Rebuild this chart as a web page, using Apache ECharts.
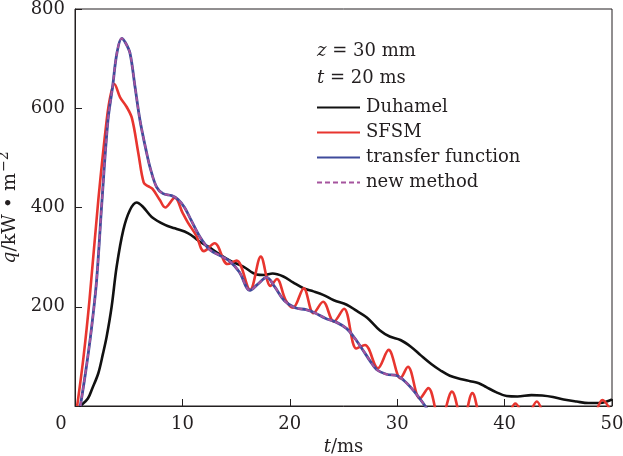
<!DOCTYPE html>
<html><head><meta charset="utf-8">
<script src="https://cdn.jsdelivr.net/npm/echarts@6/dist/echarts.min.js"></script>
<style>html,body{margin:0;padding:0;background:#fff}#c{width:623px;height:456px}</style>
</head><body><div id="c"></div>
<script>
// ---- data (t in ms, q in kW·m^-2) ----
const duhamelT = [0.4,0.6,1.2,1.6,2.17,2.6,2.95,3.41,3.88,4.5,5.12,5.74,6.3,7.14,8.38,9.3,10.55,11.5,12.4,13.5,14.6,15.67,16.9,17.6,18.4,19.4,20.3,21.3,22.2,23.1,24.1,25.3,26.2,27.2,28.4,29.3,30.3,31.3,32.2,33.2,34.0,34.9,36.0,36.8,37.6,38.3,39.2,40.2,41.2,42.5,43.5,44.5,45.5,46.7,47.8,48.9,49.5,50];
const duhamelQ = [0,2,15,35,66,105,140,200,281,355,395,410,402,381,365,358,348,333,321,305,291,281,265,264,267,261,249,237,231,224,213,204,192,178,152,140,133,119,102,84,72,61,54,50,46,38,28,20,19,22,21,18,13,9,6,6,9,13];

const sfsmT = [0.2,0.8,1.35,2.17,2.95,3.3,3.66,4.2,4.8,5.3,5.9,6.4,6.8,7.2,7.9,8.4,9.3,10.0,10.5,11.3,12.0,13.0,14.2,15.05,16.3,17.3,18.2,18.8,19.6,20.3,21.3,22.2,23.1,24.1,25.05,26.2,27.0,28.2,29.2,30.3,31.0,32.1,32.9,34.0,35.1,36.1,37.0,38.0,39.0,40.0,41.0,42.0,43.0,44.0,45.0,46.0,47.0,48.1,49.1,50];
const sfsmQ = [0,100,214,415,576,625,649,622,603,580,509,450,443,438,415,400,420,390,370,343,312,328,286,293,234,301,242,256,214,198,237,187,210,170,196,116,123,76,113,56,79,15,36,-35,29,-35,26,-35,-10,-30,5,-25,9,-30,-10,-30,-10,-25,12,-15];

const transferT = [0.5,1.0,1.5,2.0,2.5,3.07,3.5,3.9,4.35,4.7,5.12,5.59,6.05,6.67,7.0,7.6,8.2,9.0,9.6,10.2,10.8,11.6,12.5,13.5,14.4,15.3,16.3,17.0,17.85,18.6,19.5,20.5,21.5,22.3,23.3,24.4,25.3,26.0,26.8,27.5,28.1,29.0,30.0,30.6,31.2,32.0,32.6,33.2];
const transferQ = [0,70,150,250,410,576,643,711,741,732,711,643,576,510,480,441,428,424,416,400,375,342,316,303,292,270,233,245,259,240,212,198,194,188,177,168,156,138,113,90,73,64,61,52,39,18,0,-20];

const newMethodT = [0.5,1.0,1.5,2.0,2.5,3.07,3.5,3.9,4.35,4.7,5.12,5.59,6.05,6.67,7.0,7.6,8.2,9.0,9.6,10.2,10.8,11.6,12.5,13.5,14.4,15.3,16.3,17.0,17.85,18.6,19.5,20.5,21.5,22.3,23.3,24.4,25.3,26.0,26.8,27.5,28.1,29.0,30.0,30.6,31.2,32.0,32.6,33.2];
const newMethodQ = [0,70,150,250,410,576,643,711,741,732,711,643,576,510,480,441,428,424,416,400,375,342,316,303,292,270,233,245,259,240,212,198,194,188,177,168,156,138,113,90,73,64,61,52,39,18,0,-20];

const seriesNames = ['Duhamel','SFSM','transfer function','new method'];
const annotation1 = ['z', ' = 30 mm'];
const annotation2 = ['t', ' = 20 ms'];
const xTicks = {min:0, max:50, interval:10};
const yTicks = {min:0, max:800, interval:200};

function pairs(t, q){ return t.map((v,i)=>[v,q[i]]); }

const FONT = 'DejaVu Serif';
const FS = 18;
const INK = '#231f20';

const chart = echarts.init(document.getElementById('c'), null, {renderer:'canvas'});
chart.setOption({
  animation:false,
  backgroundColor:'#fff',
  grid:{left:75, right:11, top:9, bottom:50, show:true, borderColor:INK, borderWidth:1, containLabel:false, outerBoundsMode:'none'},
  xAxis:{
    type:'value', min:xTicks.min, max:xTicks.max, interval:xTicks.interval,
    name:'{i|t}{n|/ms}', nameLocation:'middle', nameGap:21,
    nameTextStyle:{rich:{i:{fontFamily:FONT,fontSize:FS,fontStyle:'italic',color:INK},n:{fontFamily:FONT,fontSize:FS,color:INK}}},
    axisLine:{show:true, lineStyle:{color:INK,width:1}},
    axisTick:{show:true, inside:true, length:7, lineStyle:{color:INK}},
    splitLine:{show:false},
    axisLabel:{margin:9, color:INK, fontFamily:FONT, fontSize:FS,
      formatter:function(v){ return v===0 ? '{z|0}' : String(v); },
      rich:{z:{fontFamily:FONT,fontSize:FS,color:INK,padding:[0,28,0,0]}}}
  },
  yAxis:{
    type:'value', min:yTicks.min, max:yTicks.max, interval:yTicks.interval,
    name:'{i|q}{n|/kW • m}{s|−2}', nameLocation:'middle', nameGap:44, nameRotate:90,
    nameTextStyle:{rich:{
      i:{fontFamily:FONT,fontSize:19,fontStyle:'italic',color:INK,lineHeight:24},
      n:{fontFamily:FONT,fontSize:19,color:INK,lineHeight:24},
      s:{fontFamily:FONT,fontSize:14,color:INK,lineHeight:24,verticalAlign:'top',padding:[0,0,8,1]}}},
    axisLine:{show:true, lineStyle:{color:INK,width:1}},
    axisTick:{show:true, inside:true, length:7, lineStyle:{color:INK}},
    splitLine:{show:false},
    axisLabel:{margin:10, color:INK, fontFamily:FONT, fontSize:FS, showMinLabel:false}
  },
  legend:{
    orient:'vertical', left:316, top:98, padding:0, itemWidth:43, itemHeight:14, itemGap:6,
    itemStyle:{opacity:0},
    textStyle:{fontFamily:FONT, fontSize:FS, color:INK, lineHeight:19, padding:[0,0,0,1]},
    data:seriesNames
  },
  graphic:[
    {type:'text', left:317, top:42, style:{text:'{i|'+annotation1[0]+'}{n|'+annotation1[1]+'}', rich:{i:{fontFamily:FONT,fontSize:FS,fontStyle:'italic',fill:INK},n:{fontFamily:FONT,fontSize:FS,fill:INK}}}},
    {type:'text', left:317, top:69, style:{text:'{i|'+annotation2[0]+'}{n|'+annotation2[1]+'}', rich:{i:{fontFamily:FONT,fontSize:FS,fontStyle:'italic',fill:INK},n:{fontFamily:FONT,fontSize:FS,fill:INK}}}}
  ],
  series:[
    {name:seriesNames[0], type:'line', data:pairs(duhamelT,duhamelQ), smooth:0.35, symbol:'none', clip:true,
      lineStyle:{color:'#111111', width:2.6}, itemStyle:{color:'#111111'}, z:2},
    {name:seriesNames[1], type:'line', data:pairs(sfsmT,sfsmQ), smooth:0.35, symbol:'none', clip:true,
      lineStyle:{color:'#e8352f', width:2.6}, itemStyle:{color:'#e8352f'}, z:3},
    {name:seriesNames[2], type:'line', data:pairs(transferT,transferQ), smooth:0.35, symbol:'none', clip:true,
      lineStyle:{color:'#3f4b9b', width:2.8}, itemStyle:{color:'#3f4b9b'}, z:4},
    {name:seriesNames[3], type:'line', data:pairs(newMethodT,newMethodQ), smooth:0.35, symbol:'none', clip:true,
      lineStyle:{color:'#a5549e', width:2, type:[5,3]}, itemStyle:{color:'#a5549e'}, z:5}
  ]
});
</script>
</body></html>
